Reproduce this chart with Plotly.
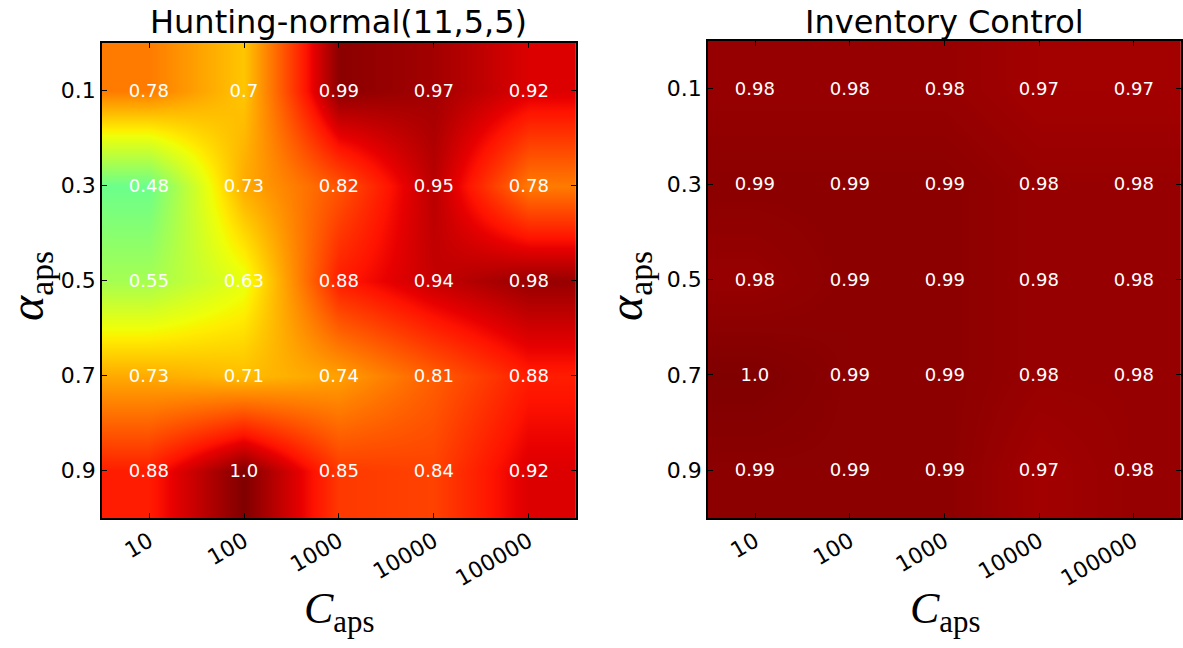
import numpy as np
import plotly.graph_objects as go

c_labels = ["10", "100", "1000", "10000", "100000"]
alpha_labels = ["0.1", "0.3", "0.5", "0.7", "0.9"]

hunting = [
    [0.78, 0.7, 0.99, 0.97, 0.92],
    [0.48, 0.73, 0.82, 0.95, 0.78],
    [0.55, 0.63, 0.88, 0.94, 0.98],
    [0.73, 0.71, 0.74, 0.81, 0.88],
    [0.88, 1.0, 0.85, 0.84, 0.92],
]
inventory = [
    [0.98, 0.98, 0.98, 0.97, 0.97],
    [0.99, 0.99, 0.99, 0.98, 0.98],
    [0.98, 0.99, 0.99, 0.98, 0.98],
    [1.0, 0.99, 0.99, 0.98, 0.98],
    [0.99, 0.99, 0.99, 0.97, 0.98],
]
titles = ["Hunting-normal(11,5,5)", "Inventory Control"]

# matplotlib "jet" colormap as a plotly colorscale
_r = ([0, 0.35, 0.66, 0.89, 1], [0, 0, 1, 1, 0.5])
_g = ([0, 0.125, 0.375, 0.64, 0.91, 1], [0, 0, 1, 1, 0, 0])
_b = ([0, 0.11, 0.34, 0.65, 1], [0.5, 1, 1, 0, 0])
_pts = sorted(set(_r[0] + _g[0] + _b[0]))
jet = []
for p in _pts:
    r = np.interp(p, *_r); g = np.interp(p, *_g); b = np.interp(p, *_b)
    jet.append([p, f"rgb({int(round(r*255))},{int(round(g*255))},{int(round(b*255))})"])

W, H = 1183, 648
fig = go.Figure()

domains_x = [(102 / W, 577 / W), (709 / W, 1.0)]
domains_y = [(1 - 518 / H, 1 - 43 / H), (1 - 518 / H, 1 - 41 / H)]
idx = list(range(5))

for i, data in enumerate([hunting, inventory]):
    xa = "x" if i == 0 else "x2"
    ya = "y" if i == 0 else "y2"
    fig.add_trace(go.Heatmap(
        z=data, x=idx, y=idx,
        colorscale=jet, zmin=0, zmax=1, zsmooth="best", showscale=False,
        text=[[str(v) for v in row] for row in data],
        texttemplate="%{text}",
        textfont=dict(family="DejaVu Sans", size=18, color="white"),
        xaxis=xa, yaxis=ya, hoverinfo="skip",
    ))

axis_common = dict(
    showline=True, linecolor="black", linewidth=1.5, mirror="ticks",
    ticks="inside", ticklen=5, tickwidth=1, tickcolor="black",
    showgrid=False, zeroline=False,
    tickfont=dict(family="DejaVu Sans", size=22, color="black"),
)
for i in range(2):
    sfx = "" if i == 0 else "2"
    fig.layout["xaxis" + sfx] = dict(
        axis_common, domain=domains_x[i], anchor="y" + sfx,
        tickvals=idx, ticktext=c_labels, tickangle=-30, range=[-0.5, 4.5],
    )
    fig.layout["yaxis" + sfx] = dict(
        axis_common, domain=domains_y[i], anchor="x" + sfx,
        tickvals=idx, ticktext=alpha_labels, range=[4.5, -0.5],
    )

annotations = []
centers = [(102 + 577) / 2 / W, (709 + 1184) / 2 / W]
for i in range(2):
    annotations.append(dict(
        text=titles[i], x=centers[i], y=1 - 22 / H, xref="paper", yref="paper",
        showarrow=False, font=dict(family="DejaVu Sans", size=32, color="black"),
        xanchor="center", yanchor="middle",
    ))
    annotations.append(dict(
        text="<i>C</i><sub>aps</sub>", x=centers[i], y=1 - 611 / H,
        xref="paper", yref="paper", showarrow=False,
        font=dict(family="Liberation Serif", size=44, color="black"),
        xanchor="center", yanchor="middle",
    ))
ylab_x = [30 / W, 630 / W]
for i in range(2):
    annotations.append(dict(
        text="<i>α</i><sub>aps</sub>", x=ylab_x[i], y=1 - 286 / H,
        xref="paper", yref="paper", showarrow=False, textangle=-90,
        font=dict(family="Liberation Serif", size=48, color="black"),
        xanchor="center", yanchor="middle",
    ))

fig.update_layout(
    width=W, height=H, margin=dict(l=0, r=0, t=0, b=0),
    paper_bgcolor="white", plot_bgcolor="white",
    annotations=annotations, showlegend=False,
)
fig.write_html("out.html")
